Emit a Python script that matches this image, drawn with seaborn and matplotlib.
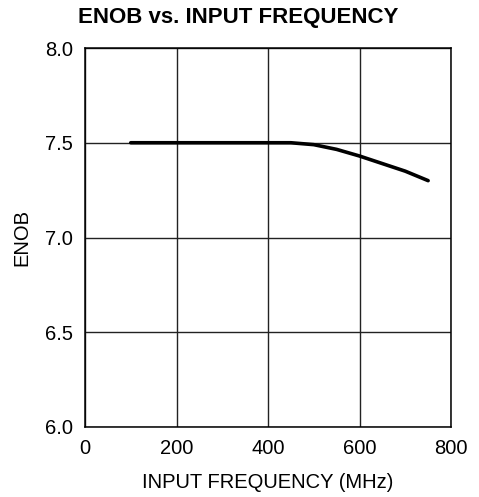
import matplotlib
matplotlib.use("Agg")
import matplotlib.pyplot as plt
import seaborn as sns
import pandas as pd

freq_mhz = [100, 200, 300, 400, 450, 500, 550, 600, 650, 700, 750]
enob = [7.50, 7.50, 7.50, 7.50, 7.50, 7.49, 7.465, 7.43, 7.39, 7.35, 7.30]
x_ticks = [0, 200, 400, 600, 800]
y_ticks = [6.0, 6.5, 7.0, 7.5, 8.0]

sns.set_theme(style="white")
plt.rcParams['font.family'] = ['Liberation Sans', 'DejaVu Sans']

df = pd.DataFrame({"freq": freq_mhz, "enob": enob})

fig = plt.figure(figsize=(4.79, 4.97), dpi=100)
ax = fig.add_axes([85/479, 1 - 427/497, (451-85)/479, (427-48)/497])
sns.lineplot(data=df, x="freq", y="enob", ax=ax, color="black", linewidth=2.6)

fs = 14.5
ax.set_xlim(0, 800)
ax.set_ylim(6.0, 8.0)
ax.set_xticks(x_ticks)
ax.set_yticks(y_ticks)
ax.set_xticklabels([str(v) for v in x_ticks], fontsize=fs)
ax.set_yticklabels([f"{v:.1f}" for v in y_ticks], fontsize=fs)
ax.grid(True, color="#222222", linewidth=1.0)
ax.set_axisbelow(True)
ax.tick_params(axis="x", length=0, pad=8.5, colors="black")
ax.tick_params(axis="y", length=0, pad=8.5, colors="black")
for s in ax.spines.values():
    s.set_color("black")
    s.set_linewidth(1.1)
ax.set_xlabel("INPUT FREQUENCY (MHz)", fontsize=fs, labelpad=11, color="black")
ax.set_ylabel("ENOB", fontsize=fs, labelpad=10, color="black")
fig.text(238/479, 1 - 18/497, "ENOB vs. INPUT FREQUENCY", fontsize=16, fontweight="bold",
         ha="center", va="center", color="black")

fig.savefig("out.png", dpi=100)
